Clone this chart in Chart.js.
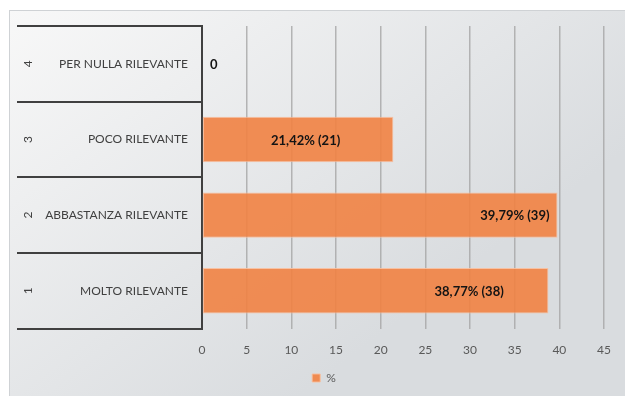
<!DOCTYPE html>
<html>
<head>
<meta charset="utf-8">
<script src="https://cdn.jsdelivr.net/npm/chart.js@4.4.1/dist/chart.umd.min.js"></script>
<style>
  html, body { margin: 0; padding: 0; background: #fff; }
  canvas { display: block; }
</style>
</head>
<body>
<canvas id="chart" width="625" height="396"></canvas>
<script>
// categories, top to bottom as in the picture
const codes = ['4', '3', '2', '1'];
const categories = ['PER NULLA RILEVANTE', 'POCO RILEVANTE', 'ABBASTANZA RILEVANTE', 'MOLTO RILEVANTE'];
const percents = [0, 21.42, 39.79, 38.77];
const counts = [0, 21, 39, 38];
const xTicks = [0, 5, 10, 15, 20, 25, 30, 35, 40, 45];

const FONT = 'Lato, "Open Sans", sans-serif';

function labelText(i) {
    if (percents[i] === 0) return '0';
    return percents[i].toFixed(2).replace('.', ',') + '% (' + counts[i] + ')';
}

// gray gradient panel behind everything; legend nudged to the panel's centre
const panelBg = {
    id: 'panelBg',
    afterLayout(chart) {
        chart.legend.left += 12;
        chart.legend.right += 12;
    },
    beforeDraw(chart) {
        const c = chart.ctx;
        c.save();
        c.fillStyle = '#ffffff';
        c.fillRect(0, 0, chart.width, chart.height);
        const g = c.createLinearGradient(9, 10, 300, 396);
        g.addColorStop(0, '#f8f8f8');
        g.addColorStop(1, '#d9dcdf');
        c.fillStyle = g;
        c.fillRect(9, 10, chart.width - 9, chart.height - 10);
        c.strokeStyle = '#cfd2d5';
        c.lineWidth = 1;
        c.strokeRect(9.5, 10.5, chart.width - 9, chart.height - 10);
        c.restore();
    }
};

// two-level category labels (code rotated + name)
const multiLevel = {
    id: 'multiLevel',
    afterDraw(chart) {
        const y = chart.scales.y;
        const c = chart.ctx;
        c.save();
        c.fillStyle = '#404040';
        c.font = '12px ' + FONT;
        c.textBaseline = 'middle';
        categories.forEach((name, i) => {
            const py = y.getPixelForValue(i);
            c.textAlign = 'right';
            c.fillText(name, y.right - 14, py);
            c.save();
            c.translate(y.left + 11, py);
            c.rotate(-Math.PI / 2);
            c.textAlign = 'center';
            c.fillText(codes[i], 0, 0);
            c.restore();
        });
        c.restore();
    }
};

// value labels; anchor per bar: 'start', 'end' or a position in axis units
const barLabels = {
    id: 'barLabels',
    afterDatasetsDraw(chart, args, opts) {
        const c = chart.ctx;
        const x = chart.scales.x;
        const meta = chart.getDatasetMeta(0);
        c.save();
        c.fillStyle = '#141414';
        c.font = 'bold 13px ' + FONT;
        c.textBaseline = 'middle';
        meta.data.forEach((bar, i) => {
            const a = opts.anchor[i];
            let px;
            if (a === 'start') { c.textAlign = 'left'; px = bar.base + 8; }
            else if (a === 'end') { c.textAlign = 'right'; px = bar.x - 8; }
            else { c.textAlign = 'center'; px = x.getPixelForValue(a); }
            c.fillText(labelText(i), px, bar.y + 1);
        });
        c.restore();
    }
};

new Chart(document.getElementById('chart'), {
    type: 'bar',
    data: {
        labels: categories,
        datasets: [{
            label: '%',
            data: percents,
            backgroundColor: 'rgba(241, 130, 66, 0.9)',
            borderColor: 'rgba(250, 190, 155, 0.9)',
            borderWidth: 1,
            borderSkipped: false,
            categoryPercentage: 1,
            barPercentage: 0.6
        }]
    },
    options: {
        indexAxis: 'y',
        responsive: false,
        animation: false,
        layout: { padding: { left: 17, right: 18, top: 26, bottom: 2 } },
        scales: {
            x: {
                min: 0,
                max: 45,
                afterBuildTicks(axis) { axis.ticks = xTicks.map(v => ({ value: v })); },
                afterFit(axis) { axis.height -= 9; },
                border: { display: false },
                grid: { color: 'rgba(165, 165, 165, 0.8)', lineWidth: 1.5, drawTicks: false },
                ticks: { color: '#595959', font: { family: FONT, size: 12 }, padding: 14 }
            },
            y: {
                border: { display: true, color: '#404040', width: 2 },
                grid: {
                    offset: true,
                    drawOnChartArea: false,
                    drawTicks: true,
                    tickLength: 185,
                    color: '#404040',
                    lineWidth: 2
                },
                ticks: { display: false }
            }
        },
        plugins: {
            legend: {
                position: 'bottom',
                labels: {
                    color: '#595959',
                    font: { family: FONT, size: 12 },
                    boxWidth: 8,
                    boxHeight: 8,
                    padding: 10
                }
            },
            tooltip: { enabled: false },
            barLabels: { anchor: ['start', 11.6, 'end', 29.9] }
        }
    },
    plugins: [panelBg, multiLevel, barLabels]
});
</script>
</body>
</html>
